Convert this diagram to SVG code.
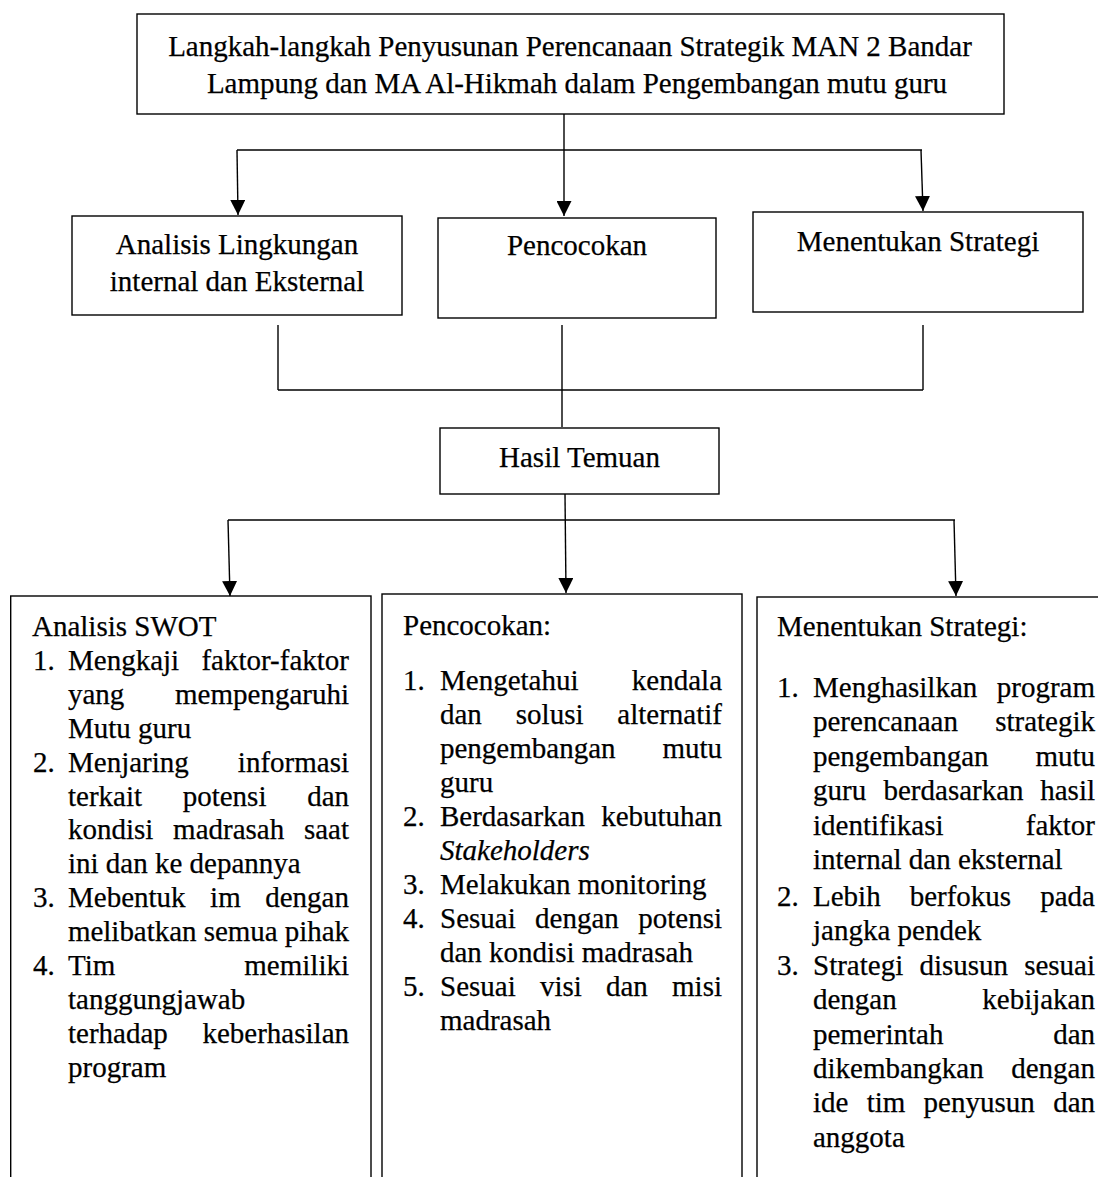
<svg xmlns="http://www.w3.org/2000/svg" width="1098" height="1177" viewBox="0 0 1098 1177">
  <style>
    .box { fill: #fff; stroke: #000; stroke-width: 1.4; }
    .t { font-family: "Liberation Serif", "Times New Roman", serif; font-size: 29px; fill: #000; stroke: #000; stroke-width: 0.25; }
    .c { text-anchor: middle; }
    .e { text-anchor: end; }
    .i { font-style: italic; }
    .conn { stroke: #000; stroke-width: 1.4; fill: none; }
  </style>
  <defs>
    <marker id="arrow" markerUnits="userSpaceOnUse" markerWidth="15" markerHeight="15" viewBox="0 0 15 15" refX="15" refY="7.5" orient="auto">
      <path d="M0,0 L15,7.5 L0,15 z" fill="#000"/>
    </marker>
  </defs>

  <rect width="1098" height="1177" fill="#fff"/>

  <!-- connectors -->
  <g id="connectors">
    <!-- title to the three steps -->
    <line class="conn" x1="564" y1="114" x2="564" y2="216" marker-end="url(#arrow)"/>
    <line class="conn" x1="237" y1="150" x2="922" y2="150"/>
    <line class="conn" x1="237" y1="150" x2="238" y2="215" marker-end="url(#arrow)"/>
    <line class="conn" x1="921" y1="150" x2="923" y2="211" marker-end="url(#arrow)"/>
    <!-- three steps joined into findings -->
    <line class="conn" x1="278" y1="325" x2="278" y2="390"/>
    <line class="conn" x1="562" y1="325" x2="562" y2="427"/>
    <line class="conn" x1="923" y1="325" x2="923" y2="390"/>
    <line class="conn" x1="278" y1="390" x2="923" y2="390"/>
    <!-- findings to the three detail columns -->
    <line class="conn" x1="565" y1="494" x2="566" y2="593" marker-end="url(#arrow)"/>
    <line class="conn" x1="228" y1="520" x2="955" y2="520"/>
    <line class="conn" x1="228" y1="520" x2="230" y2="596" marker-end="url(#arrow)"/>
    <line class="conn" x1="954" y1="520" x2="956" y2="596" marker-end="url(#arrow)"/>
  </g>

  <!-- title -->
  <g id="node-title">
    <rect class="box" x="137" y="14" width="867" height="100"/>
    <text class="t c" x="570" y="56">Langkah-langkah Penyusunan Perencanaan Strategik MAN 2 Bandar</text>
    <text class="t c" x="577" y="93">Lampung dan MA Al-Hikmah dalam Pengembangan mutu guru</text>
  </g>

  <!-- steps -->
  <g id="node-analisis">
    <rect class="box" x="72" y="216" width="330" height="99"/>
    <text class="t c" x="237" y="254">Analisis Lingkungan</text>
    <text class="t c" x="237" y="291">internal dan Eksternal</text>
  </g>
  <g id="node-pencocokan">
    <rect class="box" x="438" y="218" width="278" height="100"/>
    <text class="t c" x="577" y="255">Pencocokan</text>
  </g>
  <g id="node-strategi">
    <rect class="box" x="753" y="212" width="330" height="100"/>
    <text class="t c" x="918" y="251">Menentukan Strategi</text>
  </g>

  <!-- findings -->
  <g id="node-hasil">
    <rect class="box" x="440" y="428" width="279" height="66"/>
    <text class="t c" x="579.5" y="467">Hasil Temuan</text>
  </g>

  <!-- detail column: SWOT -->
  <g id="node-swot">
    <rect class="box" x="10.7" y="596" width="360.3" height="620"/>
    <text class="t" x="32" y="636">Analisis SWOT</text>
    <text class="t" x="33" y="669.9">1.</text>
    <text class="t" x="68" y="669.9">Mengkaji</text>
    <text class="t e" x="349" y="669.9">faktor-faktor</text>
    <text class="t" x="68" y="703.8">yang</text>
    <text class="t e" x="349" y="703.8">mempengaruhi</text>
    <text class="t" x="68" y="737.7">Mutu guru</text>
    <text class="t" x="33" y="771.6">2.</text>
    <text class="t" x="68" y="771.6">Menjaring</text>
    <text class="t e" x="349" y="771.6">informasi</text>
    <text class="t" x="68" y="805.5">terkait</text>
    <text class="t" x="182.7" y="805.5">potensi</text>
    <text class="t e" x="349" y="805.5">dan</text>
    <text class="t" x="68" y="839.4">kondisi</text>
    <text class="t" x="173.1" y="839.4">madrasah</text>
    <text class="t e" x="349" y="839.4">saat</text>
    <text class="t" x="68" y="873.3">ini dan ke depannya</text>
    <text class="t" x="33" y="907.2">3.</text>
    <text class="t" x="68" y="907.2">Mebentuk</text>
    <text class="t" x="210.1" y="907.2">im</text>
    <text class="t e" x="349" y="907.2">dengan</text>
    <text class="t" x="68" y="941.1" textLength="281" lengthAdjust="spacing">melibatkan semua pihak</text>
    <text class="t" x="33" y="975">4.</text>
    <text class="t" x="68" y="975">Tim</text>
    <text class="t e" x="349" y="975">memiliki</text>
    <text class="t" x="68" y="1008.9">tanggungjawab</text>
    <text class="t" x="68" y="1042.8">terhadap</text>
    <text class="t e" x="349" y="1042.8">keberhasilan</text>
    <text class="t" x="68" y="1076.7">program</text>
  </g>

  <!-- detail column: matching -->
  <g id="node-pencocokan-detail">
    <rect class="box" x="382" y="594" width="360" height="620"/>
    <text class="t" x="403" y="635">Pencocokan:</text>
    <text class="t" x="403" y="690">1.</text>
    <text class="t" x="440" y="690">Mengetahui</text>
    <text class="t e" x="722" y="690">kendala</text>
    <text class="t" x="440" y="724">dan</text>
    <text class="t" x="515.8" y="724">solusi</text>
    <text class="t e" x="722" y="724">alternatif</text>
    <text class="t" x="440" y="758">pengembangan</text>
    <text class="t e" x="722" y="758">mutu</text>
    <text class="t" x="440" y="792">guru</text>
    <text class="t" x="403" y="826">2.</text>
    <text class="t" x="440" y="826">Berdasarkan</text>
    <text class="t e" x="722" y="826">kebutuhan</text>
    <text class="t i" x="440" y="860">Stakeholders</text>
    <text class="t" x="403" y="894">3.</text>
    <text class="t" x="440" y="894">Melakukan monitoring</text>
    <text class="t" x="403" y="928">4.</text>
    <text class="t" x="440" y="928">Sesuai</text>
    <text class="t" x="535.1" y="928">dengan</text>
    <text class="t e" x="722" y="928">potensi</text>
    <text class="t" x="440" y="962">dan kondisi madrasah</text>
    <text class="t" x="403" y="996">5.</text>
    <text class="t" x="440" y="996">Sesuai</text>
    <text class="t" x="539.9" y="996">visi</text>
    <text class="t" x="606" y="996">dan</text>
    <text class="t e" x="722" y="996">misi</text>
    <text class="t" x="440" y="1030">madrasah</text>
  </g>

  <!-- detail column: strategy -->
  <g id="node-strategi-detail">
    <rect class="box" x="757" y="597" width="360" height="620"/>
    <text class="t" x="777" y="636">Menentukan Strategi:</text>
    <text class="t" x="777" y="697">1.</text>
    <text class="t" x="813" y="697">Menghasilkan</text>
    <text class="t e" x="1095" y="697">program</text>
    <text class="t" x="813" y="731.4">perencanaan</text>
    <text class="t e" x="1095" y="731.4">strategik</text>
    <text class="t" x="813" y="765.8">pengembangan</text>
    <text class="t e" x="1095" y="765.8">mutu</text>
    <text class="t" x="813" y="800.2">guru</text>
    <text class="t" x="883.5" y="800.2">berdasarkan</text>
    <text class="t e" x="1095" y="800.2">hasil</text>
    <text class="t" x="813" y="834.6">identifikasi</text>
    <text class="t e" x="1095" y="834.6">faktor</text>
    <text class="t" x="813" y="869">internal dan eksternal</text>
    <text class="t" x="777" y="906">2.</text>
    <text class="t" x="813" y="906">Lebih</text>
    <text class="t" x="909.7" y="906">berfokus</text>
    <text class="t e" x="1095" y="906">pada</text>
    <text class="t" x="813" y="940.4">jangka pendek</text>
    <text class="t" x="777" y="974.8">3.</text>
    <text class="t" x="813" y="974.8">Strategi</text>
    <text class="t" x="919.4" y="974.8">disusun</text>
    <text class="t e" x="1095" y="974.8">sesuai</text>
    <text class="t" x="813" y="1009.2">dengan</text>
    <text class="t e" x="1095" y="1009.2">kebijakan</text>
    <text class="t" x="813" y="1043.6">pemerintah</text>
    <text class="t e" x="1095" y="1043.6">dan</text>
    <text class="t" x="813" y="1078">dikembangkan</text>
    <text class="t e" x="1095" y="1078">dengan</text>
    <text class="t" x="813" y="1112.4">ide</text>
    <text class="t" x="866.7" y="1112.4">tim</text>
    <text class="t" x="923.6" y="1112.4">penyusun</text>
    <text class="t e" x="1095" y="1112.4">dan</text>
    <text class="t" x="813" y="1146.8">anggota</text>
  </g>
</svg>
